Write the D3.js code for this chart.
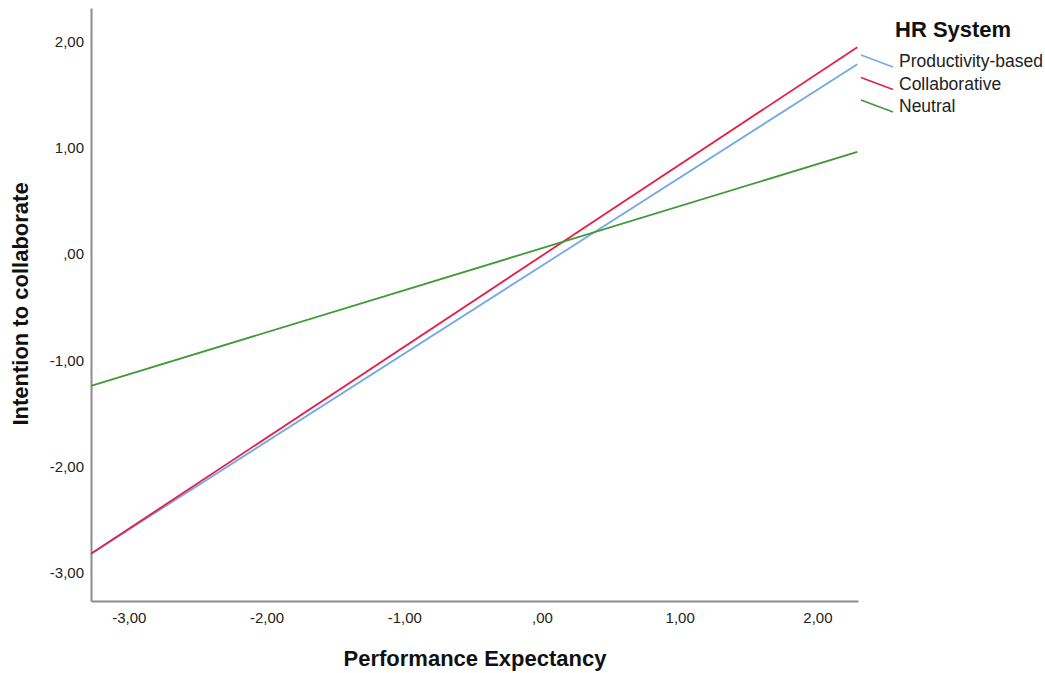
<!DOCTYPE html>
<html><head><meta charset="utf-8">
<script src="https://cdn.jsdelivr.net/npm/d3@7"></script>
<style>body{margin:0;background:#fff;} svg{display:block;font-family:"Liberation Sans",Arial,sans-serif;}</style>
</head><body>
<svg id="c" width="1045" height="673"></svg>
<script>
const xExtent = [-3.275, 2.295];
const yExtent = [-3.264, 2.314];
const xTicks = [-3, -2, -1, 0, 1, 2];
const yTicks = [-3, -2, -1, 0, 1, 2];
const seriesNames = ["Productivity-based", "Collaborative", "Neutral"];
const seriesColors = ["#74a9e6", "#e3204a", "#3e9a36"];
const lineX = [-3.275, 2.29];
const productivityY = [-2.82, 1.785];
const collaborativeY = [-2.82, 1.945];
const neutralY = [-1.24, 0.96];
const seriesValues = [productivityY, collaborativeY, neutralY];

const fmt = v => {
  const s = Math.abs(v).toFixed(2).replace(".", ",");
  const t = s.startsWith("0,") ? s.slice(1) : s;
  return (v < 0 ? "-" : "") + t;
};

const svg = d3.select("#c");
const m = {l: 91, r: 858, t: 8, b: 601};
const x = d3.scaleLinear().domain(xExtent).range([m.l, m.r]);
const y = d3.scaleLinear().domain(yExtent).range([m.b, m.t]);

const gx = svg.append("g").attr("transform", `translate(0,${m.b})`)
  .call(d3.axisBottom(x).tickValues(xTicks).tickFormat(fmt).tickSize(0).tickPadding(11));
const gy = svg.append("g").attr("transform", `translate(${m.l},0)`)
  .call(d3.axisLeft(y).tickValues(yTicks).tickFormat(fmt).tickSize(0).tickPadding(7));
[gx, gy].forEach(g => {
  g.select(".domain").attr("stroke", "#8c8c8c").attr("stroke-width", 2);
  g.selectAll("text").attr("font-size", 15).attr("fill", "#222").attr("font-family", "Liberation Sans, Arial, sans-serif");
});

const line = d3.line().x(d => x(d[0])).y(d => y(d[1]));
seriesValues.forEach((vals, i) => {
  svg.append("path")
    .datum(lineX.map((xv, j) => [xv, vals[j]]))
    .attr("fill", "none").attr("stroke", seriesColors[i]).attr("stroke-width", 1.8)
    .attr("d", line);
});

svg.append("text").attr("x", 475).attr("y", 666).attr("text-anchor", "middle")
  .attr("font-size", 22).attr("font-weight", "bold").attr("fill", "#111").text("Performance Expectancy");
svg.append("text").attr("transform", "translate(28,304) rotate(-90)").attr("text-anchor", "middle")
  .attr("font-size", 22).attr("font-weight", "bold").attr("fill", "#111").text("Intention to collaborate");

const lg = svg.append("g");
lg.append("text").attr("x", 895).attr("y", 37).attr("font-size", 22).attr("font-weight", "bold").attr("fill", "#111").text("HR System");
seriesNames.forEach((n, i) => {
  const cy = 61 + i * 22.5;
  lg.append("line").attr("x1", 861).attr("y1", cy - 6).attr("x2", 893).attr("y2", cy + 6)
    .attr("stroke", seriesColors[i]).attr("stroke-width", 1.5);
  lg.append("text").attr("x", 899).attr("y", cy + 6).attr("font-size", 17.5).attr("fill", "#222").text(n);
});
</script>
</body></html>
